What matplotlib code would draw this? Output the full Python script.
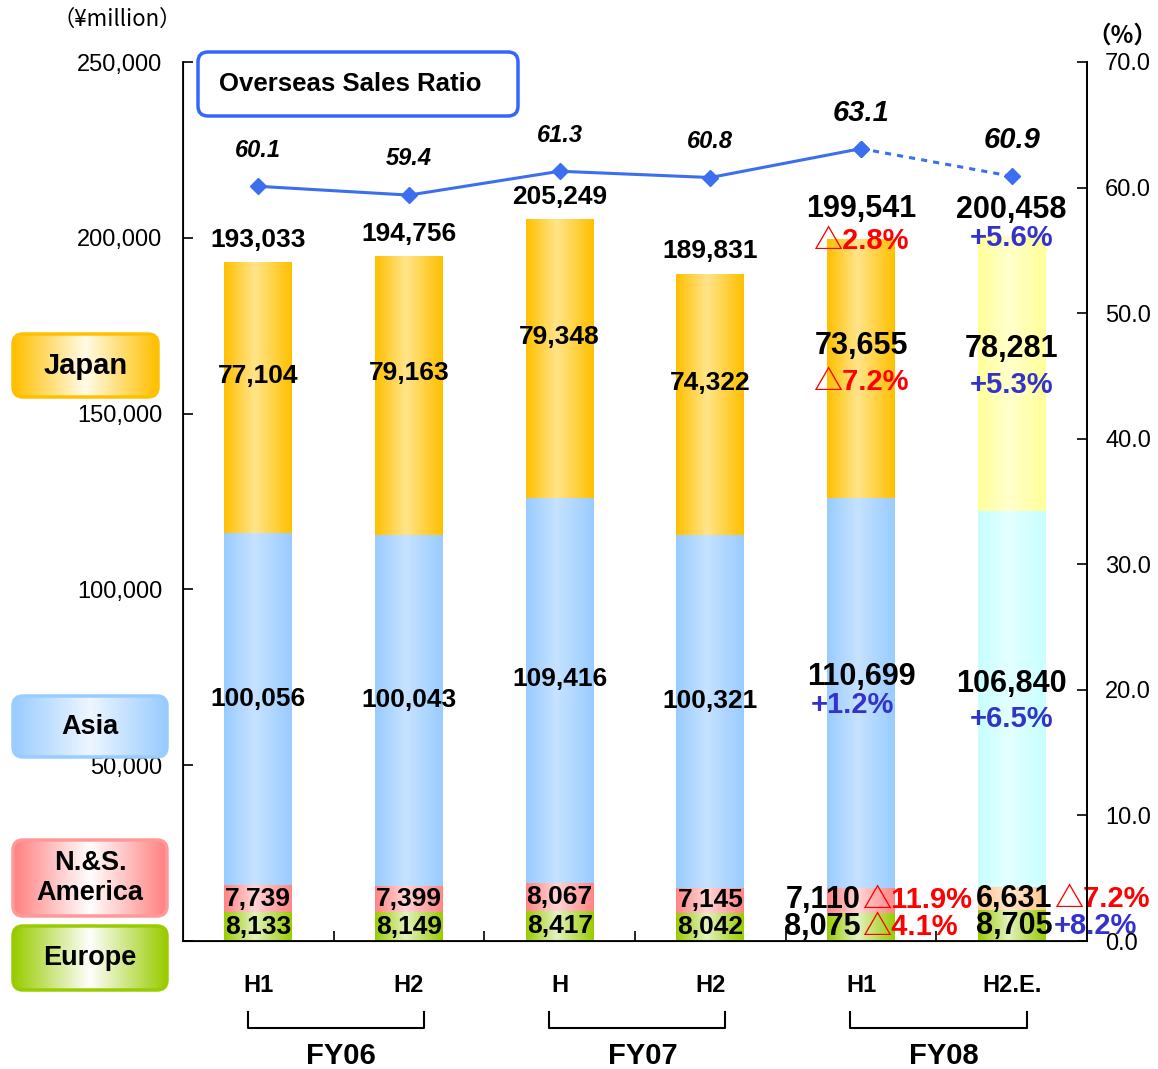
import numpy as np
import matplotlib
matplotlib.use("Agg")
import matplotlib.pyplot as plt
import matplotlib.transforms as mtransforms
from matplotlib.colors import LinearSegmentedColormap
from matplotlib.patches import FancyBboxPatch
from matplotlib.ticker import FuncFormatter, MultipleLocator

plt.rcParams['font.family'] = ['Liberation Sans', 'DejaVu Sans']

periods = ['H1', 'H2', 'H', 'H2', 'H1', 'H2.E.']
years = ['FY06', 'FY07', 'FY08']

europe = [8133, 8149, 8417, 8042, 8075, 8705]
america = [7739, 7399, 8067, 7145, 7110, 6631]
asia = [100056, 100043, 109416, 100321, 110699, 106840]
japan = [77104, 79163, 79348, 74322, 73655, 78281]
totals = [193033, 194756, 205249, 189831, 199541, 200458]
overseas_ratio = [60.1, 59.4, 61.3, 60.8, 63.1, 60.9]

# year-on-year change, FY08 only (H1, H2 estimate)
total_chg = [-2.8, 5.6]
japan_chg = [-7.2, 5.3]
asia_chg = [1.2, 6.5]
america_chg = [-11.9, -7.2]
europe_chg = [-4.1, 8.2]

W, H = 1158, 1069
fig = plt.figure(figsize=(W / 100, H / 100), dpi=100)
ax = fig.add_axes([183 / W, 1 - 941 / H, 904 / W, 879 / H])

# (edge colour, centre colour) for actual and estimate bars
colors = {
    'europe': (('#99cc00', '#e4f2c0'), ('#99cc00', '#e4f2c0')),
    'america': (('#ff8585', '#ffd6d6'), ('#ffc890', '#ffe6cc')),
    'asia': (('#99ccff', '#c6e2ff'), ('#c8ffff', '#e4ffff')),
    'japan': (('#ffc000', '#ffe48a'), ('#ffff99', '#ffffcc')),
}
grad = np.linspace(0, 1, 128).reshape(1, -1)
bar_w = 0.45
pct_family = ['Liberation Sans', 'Noto Sans CJK JP', 'DejaVu Sans']


def grad_bar(x, bottom, height, edge, mid):
    cmap = LinearSegmentedColormap.from_list('g', [(0, edge), (0.45, mid), (1, edge)])
    patch = ax.bar(x, height, bar_w, bottom=bottom, color='none', linewidth=0, zorder=2)[0]
    img = ax.imshow(grad, cmap=cmap, aspect='auto', zorder=2,
                    extent=(x - bar_w / 2, x + bar_w / 2, bottom, bottom + height))
    img.set_clip_path(patch)


def chg_text(v):
    if v < 0:
        return '\u25b3%.1f%%' % abs(v), '#ff0000'
    return '+%.1f%%' % v, '#3333cc'


x = np.arange(len(periods))
segments = [('europe', europe), ('america', america), ('asia', asia), ('japan', japan)]
for i in x:
    bottom = 0
    est = 1 if i == 5 else 0
    for name, vals in segments:
        edge, mid = colors[name][est]
        grad_bar(i, bottom, vals[i], edge, mid)
        bottom += vals[i]

lbl = dict(ha='center', va='center', fontweight='bold', color='black', zorder=5)
pct = dict(fontsize=21, fontweight='bold', family=pct_family, zorder=5)
for i in x:
    e, a, s, j = europe[i], america[i], asia[i], japan[i]
    big = i >= 4
    fs = 22 if big else 19
    if not big:
        ax.text(i, e / 2, f'{e:,}', fontsize=fs, **lbl)
        ax.text(i, e + a / 2, f'{a:,}', fontsize=fs, **lbl)
        ax.text(i, e + a + s * 0.53, f'{s:,}', fontsize=fs, **lbl)
        ax.text(i, e + a + s + j * 0.58, f'{j:,}', fontsize=fs, **lbl)
        ax.annotate(f'{totals[i]:,}', (i, totals[i]), xytext=(0, 16),
                    textcoords='offset points', fontsize=fs, **lbl)
    else:
        k = i - 4
        dx = -0.005 if k == 0 else 0.27
        for val, mid_y, chg in [(e, e / 2, europe_chg[k]), (a, e + a / 2, america_chg[k])]:
            ax.text(i + dx, mid_y, f'{val:,}', fontsize=fs, ha='right', va='center',
                    fontweight='bold', zorder=5)
            t, c = chg_text(chg)
            ax.text(i + dx + 0.01, mid_y, t, ha='left', va='center', color=c, **pct)
        for val, mid_y, chg, off, sx in [
                (s, e + a + s * 0.54, asia_chg[k], -20 if k == 0 else -25, -6 if k == 0 else 0),
                (j, e + a + s + j * 0.59, japan_chg[k], -26, 0)]:
            ax.text(i, mid_y, f'{val:,}', fontsize=fs, **lbl)
            t, c = chg_text(chg)
            ax.annotate(t, (i, mid_y), xytext=(sx, off), textcoords='offset points',
                        ha='center', va='center', color=c, **pct)
        ax.annotate(f'{totals[i]:,}', (i, totals[i]), xytext=(0, 22 if k == 0 else 19),
                    textcoords='offset points', fontsize=fs, **lbl)
        t, c = chg_text(total_chg[k])
        ax.annotate(t, (i, totals[i]), xytext=(0, -1), textcoords='offset points',
                    ha='center', va='center', color=c, **pct)

ax.set_xlim(-0.5, 5.5)
ax.set_ylim(0, 250000)
ax.yaxis.set_major_locator(MultipleLocator(50000))
ax.yaxis.set_major_formatter(FuncFormatter(lambda v, p: f'{int(v):,}'))
ax.tick_params(axis='y', direction='in', length=7, width=1.2, labelsize=17, pad=15)
ax.set_xticks(x)
ax.set_xticklabels(periods, fontsize=17, fontweight='bold')
ax.tick_params(axis='x', which='major', length=0, pad=24)
ax.set_xticks(x[:-1] + 0.5, minor=True)
ax.tick_params(axis='x', which='minor', direction='in', length=7, width=1.2)
for sp in ['left', 'bottom', 'right']:
    ax.spines[sp].set_linewidth(1.3)
ax.spines['top'].set_visible(False)

ax2 = ax.twinx()
ax2.set_ylim(0, 70)
ax2.yaxis.set_major_locator(MultipleLocator(10))
ax2.yaxis.set_major_formatter(FuncFormatter(lambda v, p: '%.1f' % v))
ax2.tick_params(axis='y', direction='in', length=7, width=1.2, labelsize=17, pad=13)
ax2.spines['top'].set_visible(False)
ax2.spines['right'].set_linewidth(1.3)
line_c = '#3c6ef0'
ax2.plot(x[:5], overseas_ratio[:5], color=line_c, lw=2.2, marker='D', ms=8, zorder=6)
ax2.plot(x[4:], overseas_ratio[4:], color=line_c, lw=2.2, ls=(0, (2, 2)), marker='D',
         ms=8, zorder=6)
for i, r in enumerate(overseas_ratio):
    ax2.annotate('%.1f' % r, (i, r), xytext=(0, 26), textcoords='offset points',
                 ha='center', va='center', fontsize=21 if i >= 4 else 17,
                 fontweight='bold', fontstyle='italic', zorder=6)

# fiscal year brackets under the period labels
tr = mtransforms.blended_transform_factory(ax.transData, ax.transAxes)
for k, yr in enumerate(years):
    x0, x1 = 2 * k - 0.07, 2 * k + 1.1
    ax.plot([x0, x0, x1, x1], [-0.081, -0.099, -0.099, -0.081], color='black', lw=1.5,
            transform=tr, clip_on=False)
    ax.text(2 * k + 0.55, -0.131, yr, transform=tr, ha='center', va='center',
            fontsize=21, fontweight='bold')

fig.text(117 / W, 1 - 19 / H, '\uff08\u00a5million\uff09', ha='center', va='center',
         fontsize=16, family=['Noto Sans CJK JP', 'DejaVu Sans'])
fig.text(1122 / W, 1 - 36 / H, '\uff08%\uff09', ha='center', va='center',
         fontsize=17, fontweight='bold', family=['Noto Sans CJK JP', 'DejaVu Sans'])


def label_box(x0, y0, w, h, text, edge, mid, border, fs, fc=None, dx=0):
    bax = fig.add_axes([x0 / W, 1 - (y0 + h) / H, w / W, h / H])
    bax.set_xlim(0, w)
    bax.set_ylim(0, h)
    bax.axis('off')
    r = 10
    box = FancyBboxPatch((r, r), w - 2 * r, h - 2 * r, boxstyle=f'round,pad={r}',
                         fc=fc if fc else 'none', ec=border, lw=2.5, clip_on=False, zorder=3)
    bax.add_patch(box)
    if fc is None:
        cmap = LinearSegmentedColormap.from_list('b', [(0, edge), (0.5, mid), (1, edge)])
        img = bax.imshow(grad, cmap=cmap, aspect='auto', extent=(0, w, 0, h), zorder=1)
        img.set_clip_path(box)
    bax.text(w / 2 + dx, h / 2, text, ha='center', va='center', fontsize=fs,
             fontweight='bold', zorder=4, linespacing=1.25)


label_box(198, 52, 320, 64, 'Overseas Sales Ratio', None, None, '#3366ff', 18.5,
          fc='white', dx=-8)
label_box(13, 334, 145, 63, 'Japan', '#ffc000', '#fffbe8', '#ffc000', 21)
label_box(13, 696, 154, 61, 'Asia', '#99ccff', '#eef6ff', '#99ccff', 19.5)
label_box(13, 840, 154, 76, 'N.&S.\nAmerica', '#ff8080', '#ffffff', '#ff9999', 19.5)
label_box(13, 926, 154, 64, 'Europe', '#99cc00', '#ffffff', '#99cc00', 19.5)

fig.savefig('out.png', dpi=100)
